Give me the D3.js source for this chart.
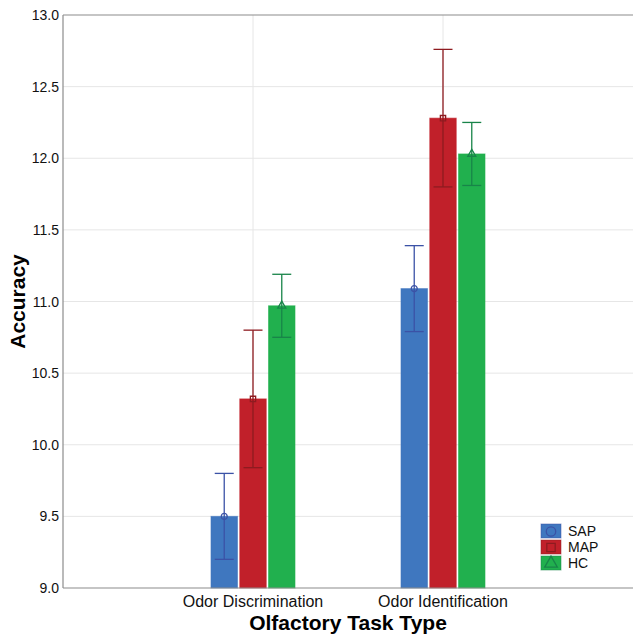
<!DOCTYPE html>
<html lang="en">
<head>
    <meta charset="utf8">
    <title>Olfactory Task Accuracy</title>
    <script src="https://d3js.org/d3.v7.min.js"></script>
    <style>
        body { margin: 0; background: #fff; }
        svg { display: block; font-family: "Liberation Sans", Arial, sans-serif; }
    </style>
</head>
<body>
    <svg id="chart" width="633" height="636"></svg>
    <script>
        // data
        const tasks = ["Odor Discrimination", "Odor Identification"];
        const groups = ["SAP", "MAP", "HC"];
        const means = {
            SAP: [9.50, 11.09],
            MAP: [10.32, 12.28],
            HC:  [10.97, 12.03]
        };
        const errLow = {
            SAP: [9.20, 10.79],
            MAP: [9.84, 11.80],
            HC:  [10.75, 11.81]
        };
        const errHigh = {
            SAP: [9.80, 11.39],
            MAP: [10.80, 12.76],
            HC:  [11.19, 12.25]
        };
        const yTicks = [9.0, 9.5, 10.0, 10.5, 11.0, 11.5, 12.0, 12.5, 13.0];

        const fills = { SAP: "#3f77bf", MAP: "#c1202a", HC: "#21b04e" };
        const darks = { SAP: "#3b52a6", MAP: "#8e1b20", HC: "#188449" };
        const shapes = { SAP: d3.symbolCircle, MAP: d3.symbolSquare, HC: d3.symbolTriangle };

        const svg = d3.select("#chart");
        const pLeft = 63, pRight = 633, pTop = 15, pBottom = 588;

        const x = d3.scalePoint().domain(tasks).range([pLeft, pRight]).padding(1);
        const y = d3.scaleLinear().domain([9, 13]).range([pBottom, pTop]);
        const xg = d3.scaleBand().domain(groups).range([-42, 42]).paddingInner(0.08);

        // grid
        svg.append("g").selectAll("line").data(yTicks.slice(1, -1)).join("line")
            .attr("x1", pLeft).attr("x2", pRight)
            .attr("y1", d => y(d)).attr("y2", d => y(d))
            .attr("stroke", "#e6e6e6").attr("stroke-width", 1);
        svg.append("g").selectAll("line").data(tasks).join("line")
            .attr("x1", d => x(d)).attr("x2", d => x(d))
            .attr("y1", pTop).attr("y2", pBottom)
            .attr("stroke", "#e6e6e6").attr("stroke-width", 1);

        // bars
        const rows = [];
        tasks.forEach((t, i) => groups.forEach(g => rows.push({
            task: t, group: g, mean: means[g][i], lo: errLow[g][i], hi: errHigh[g][i]
        })));

        svg.append("g").selectAll("rect").data(rows).join("rect")
            .attr("x", d => x(d.task) + xg(d.group))
            .attr("width", xg.bandwidth())
            .attr("y", d => y(d.mean))
            .attr("height", d => pBottom - y(d.mean))
            .attr("fill", d => fills[d.group])
            .attr("stroke", d => fills[d.group])
            .attr("stroke-opacity", 0.6)
            .attr("stroke-width", 1);

        // error bars
        const eb = svg.append("g").selectAll("g").data(rows).join("g")
            .attr("stroke", d => darks[d.group])
            .attr("stroke-width", 1.3)
            .attr("fill", "none");
        const cx = d => x(d.task) + xg(d.group) + xg.bandwidth() / 2;
        eb.append("line")
            .attr("x1", cx).attr("x2", cx)
            .attr("y1", d => y(d.lo)).attr("y2", d => y(d.hi));
        eb.append("line")
            .attr("x1", d => cx(d) - 9.5).attr("x2", d => cx(d) + 9.5)
            .attr("y1", d => y(d.hi)).attr("y2", d => y(d.hi));
        eb.append("line")
            .attr("x1", d => cx(d) - 9.5).attr("x2", d => cx(d) + 9.5)
            .attr("y1", d => y(d.lo)).attr("y2", d => y(d.lo));
        eb.append("path")
            .attr("d", d => d3.symbol(shapes[d.group], 28)())
            .attr("transform", d => `translate(${cx(d)},${y(d.mean)})`);

        // axes
        svg.append("line").attr("x1", pLeft).attr("x2", pRight).attr("y1", pTop).attr("y2", pTop)
            .attr("stroke", "#8c8c8c").attr("stroke-width", 1.2);
        svg.append("line").attr("x1", pLeft).attr("x2", pRight).attr("y1", pBottom).attr("y2", pBottom)
            .attr("stroke", "#8c8c8c").attr("stroke-width", 1.2);
        svg.append("line").attr("x1", pLeft).attr("x2", pLeft).attr("y1", pTop).attr("y2", pBottom)
            .attr("stroke", "#8c8c8c").attr("stroke-width", 1.2);

        svg.append("g").selectAll("text").data(yTicks).join("text")
            .attr("x", pLeft - 4).attr("y", d => y(d) + 5)
            .attr("text-anchor", "end")
            .attr("font-size", 14).attr("fill", "#111")
            .text(d => d.toFixed(1));

        svg.append("g").selectAll("text").data(tasks).join("text")
            .attr("x", d => x(d)).attr("y", pBottom + 19)
            .attr("text-anchor", "middle")
            .attr("font-size", 16).attr("fill", "#111")
            .text(d => d);

        svg.append("text")
            .attr("x", (pLeft + pRight) / 2).attr("y", 630)
            .attr("text-anchor", "middle")
            .attr("font-size", 21).attr("font-weight", "bold")
            .text("Olfactory Task Type");

        svg.append("text")
            .attr("transform", `translate(25,${(pTop + pBottom) / 2}) rotate(-90)`)
            .attr("text-anchor", "middle")
            .attr("font-size", 21).attr("font-weight", "bold")
            .text("Accuracy");

        // legend
        const lg = svg.append("g").attr("transform", "translate(541,524)")
            .selectAll("g").data(groups).join("g")
            .attr("transform", (d, i) => `translate(0,${i * 16})`);
        lg.append("rect")
            .attr("width", 20).attr("height", 14)
            .attr("fill", d => fills[d])
            .attr("stroke", d => darks[d]).attr("stroke-opacity", 0.5);
        lg.append("path")
            .attr("d", d => d3.symbol(shapes[d], 70)())
            .attr("transform", "translate(10,7.5)")
            .attr("fill", "none")
            .attr("stroke", d => darks[d]).attr("stroke-width", 1.3);
        lg.append("text")
            .attr("x", 27).attr("y", 12)
            .attr("font-size", 14).attr("fill", "#111")
            .text(d => d);
    </script>
</body>
</html>
